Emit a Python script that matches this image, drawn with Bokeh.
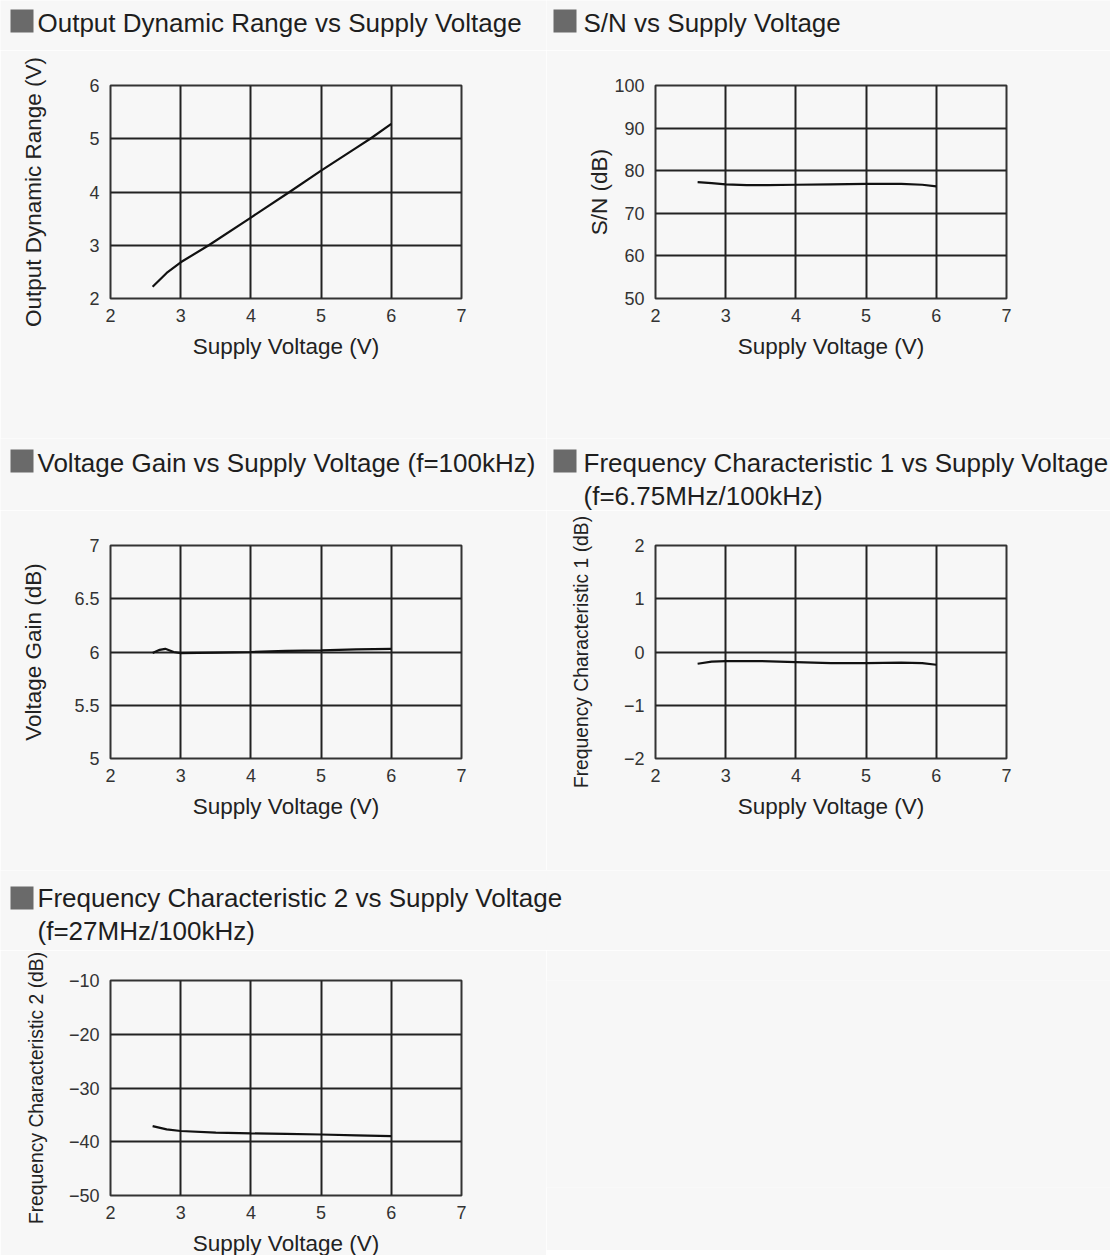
from bokeh.plotting import figure
from bokeh.layouts import column, row
from bokeh.models import Range1d, FixedTicker, CustomJSTickFormatter, Label
from bokeh.embed import file_html
from bokeh.resources import INLINE

# ---------------- data ----------------
x_ticks = [2, 3, 4, 5, 6, 7]
x_label = "Supply Voltage (V)"

odr_v = [2.6, 2.8, 3.0, 3.4, 4.0, 4.55, 5.0, 5.5, 5.7, 6.0]
odr = [2.22, 2.48, 2.68, 3.0, 3.52, 4.0, 4.4, 4.83, 5.0, 5.28]
odr_ticks = [2, 3, 4, 5, 6]

sn_v = [2.6, 2.8, 3.0, 3.3, 3.6, 4.0, 4.5, 5.0, 5.5, 5.8, 6.0]
sn = [77.3, 77.1, 76.8, 76.6, 76.6, 76.7, 76.8, 76.9, 76.9, 76.7, 76.3]
sn_ticks = [50, 60, 70, 80, 90, 100]

gain_v = [2.6, 2.7, 2.78, 2.9, 3.0, 3.5, 4.0, 4.5, 5.0, 5.5, 6.0]
gain = [5.99, 6.02, 6.03, 6.0, 5.99, 5.995, 6.0, 6.01, 6.015, 6.025, 6.03]
gain_ticks = [5, 5.5, 6, 6.5, 7]

fc1_v = [2.6, 2.8, 3.0, 3.5, 4.0, 4.5, 5.0, 5.5, 5.8, 6.0]
fc1 = [-0.22, -0.18, -0.17, -0.17, -0.19, -0.21, -0.21, -0.2, -0.21, -0.24]
fc1_ticks = [-2, -1, 0, 1, 2]

fc2_v = [2.6, 2.8, 3.0, 3.5, 4.0, 4.5, 5.0, 5.5, 6.0]
fc2 = [-37.1, -37.7, -38.0, -38.3, -38.45, -38.55, -38.65, -38.8, -38.95]
fc2_ticks = [-50, -40, -30, -20, -10]

titles = [
    ["Output Dynamic Range vs Supply Voltage"],
    ["S/N vs Supply Voltage"],
    ["Voltage Gain vs Supply Voltage (f=100kHz)"],
    ["Frequency Characteristic 1 vs Supply Voltage", "(f=6.75MHz/100kHz)"],
    ["Frequency Characteristic 2 vs Supply Voltage", "(f=27MHz/100kHz)"],
]
y_labels = ["Output Dynamic Range (V)", "S/N (dB)", "Voltage Gain (dB)",
            "Frequency Characteristic 1 (dB)", "Frequency Characteristic 2 (dB)"]

BG = "#f7f7f7"
FONT = "Liberation Sans"
fmt_code = """
var s = String(tick);
if (tick < 0) { s = '\\u2212' + String(Math.abs(tick)); }
return s;
"""


def make_blank(width, height):
    """A bare figure with only the page background (no axes, no marks)."""
    t = figure(width=width, height=height,
               x_range=Range1d(0, width), y_range=Range1d(height, 0),
               output_backend="svg", toolbar_location=None,
               min_border=0, min_border_left=0, min_border_right=0,
               min_border_top=0, min_border_bottom=0)
    t.axis.visible = False
    t.grid.visible = False
    t.outline_line_color = None
    t.background_fill_color = BG
    t.border_fill_color = BG
    return t


def make_title(lines, width, height, sq_x, sq_top, txt_x, center0):
    """Title band: grey square + heading text."""
    t = make_blank(width, height)
    t.quad(left=[sq_x], right=[sq_x + 23], top=[sq_top], bottom=[sq_top + 23],
           fill_color="#6a6a6a", line_color=None)
    for i, line in enumerate(lines):
        t.add_layout(Label(x=txt_x, y=center0 + 33 * i, text=line,
                           text_font=FONT, text_font_size="26px",
                           text_color="#1e1e1e", text_baseline="middle",
                           text_align="left"))
    return t


def make_chart(ylabel, ylab_size, ylab_standoff, xs, ys, yticks,
               width, height, frame_h, border_left, border_top):
    p = figure(width=width, height=height, frame_width=351, frame_height=frame_h,
               x_range=Range1d(x_ticks[0], x_ticks[-1]),
               y_range=Range1d(yticks[0], yticks[-1]),
               output_backend="svg", toolbar_location=None,
               min_border_left=border_left, min_border_top=border_top,
               min_border_right=width - border_left - 351,
               min_border_bottom=height - border_top - frame_h)
    p.background_fill_color = BG
    p.border_fill_color = BG
    p.outline_line_color = "#333333"
    p.outline_line_width = 2

    p.xaxis.ticker = FixedTicker(ticks=x_ticks)
    p.yaxis.ticker = FixedTicker(ticks=yticks)
    for ax in (p.xaxis[0], p.yaxis[0]):
        ax.formatter = CustomJSTickFormatter(code=fmt_code)
        ax.major_tick_line_color = None
        ax.minor_tick_line_color = None
        ax.axis_line_color = None
        ax.major_label_text_font = FONT
        ax.major_label_text_font_size = "18px"
        ax.major_label_text_color = "#333333"
        ax.axis_label_text_font = FONT
        ax.axis_label_text_font_style = "normal"
        ax.axis_label_text_color = "#222222"
    p.xaxis.major_label_standoff = 4
    p.yaxis.major_label_standoff = 5
    p.xaxis.axis_label = x_label
    p.xaxis.axis_label_text_font_size = "22.5px"
    p.xaxis.axis_label_standoff = 9
    p.yaxis.axis_label = ylabel
    p.yaxis.axis_label_text_font_size = ylab_size
    p.yaxis.axis_label_standoff = ylab_standoff

    p.xgrid.grid_line_color = "#222222"
    p.ygrid.grid_line_color = "#222222"
    p.xgrid.grid_line_width = 2
    p.ygrid.grid_line_width = 2

    p.line(xs, ys, line_color="#111111", line_width=2.2)
    return p


LW, RW = 546, 564

# row 1 (title band 0-50, charts 50-438)
t1 = make_title(titles[0], LW, 50, 10, 9, 37, 22)
t2 = make_title(titles[1], RW, 50, 7, 9, 37, 22)
p1 = make_chart(y_labels[0], "22.5px", 40, odr_v, odr, odr_ticks, LW, 388, 213, 110, 35)
p2 = make_chart(y_labels[1], "22.5px", -1, sn_v, sn, sn_ticks, RW, 388, 213, 109, 35)
# row 2 (title band 438-510, charts 510-870)
t3 = make_title(titles[2], LW, 72, 10, 11, 37, 24.5)
t4 = make_title(titles[3], RW, 72, 7, 11, 37, 24.5)
p3 = make_chart(y_labels[2], "22.5px", 25, gain_v, gain, gain_ticks, LW, 360, 213, 110, 35)
p4 = make_chart(y_labels[3], "19.3px", 29, fc1_v, fc1, fc1_ticks, RW, 360, 213, 109, 35)
# row 3 (title band 870-950, chart 950-1250)
t5 = make_title(titles[4], LW + RW, 80, 10, 16, 37, 27.5)
p5 = make_chart(y_labels[4], "19.3px", 19, fc2_v, fc2, fc2_ticks, LW, 300, 215, 110, 30)
filler = make_blank(RW, 300)

layout = column(row(t1, t2), row(p1, p2), row(t3, t4), row(p3, p4), row(t5), row(p5, filler))
open("out.html", "w").write(file_html(layout, INLINE))
